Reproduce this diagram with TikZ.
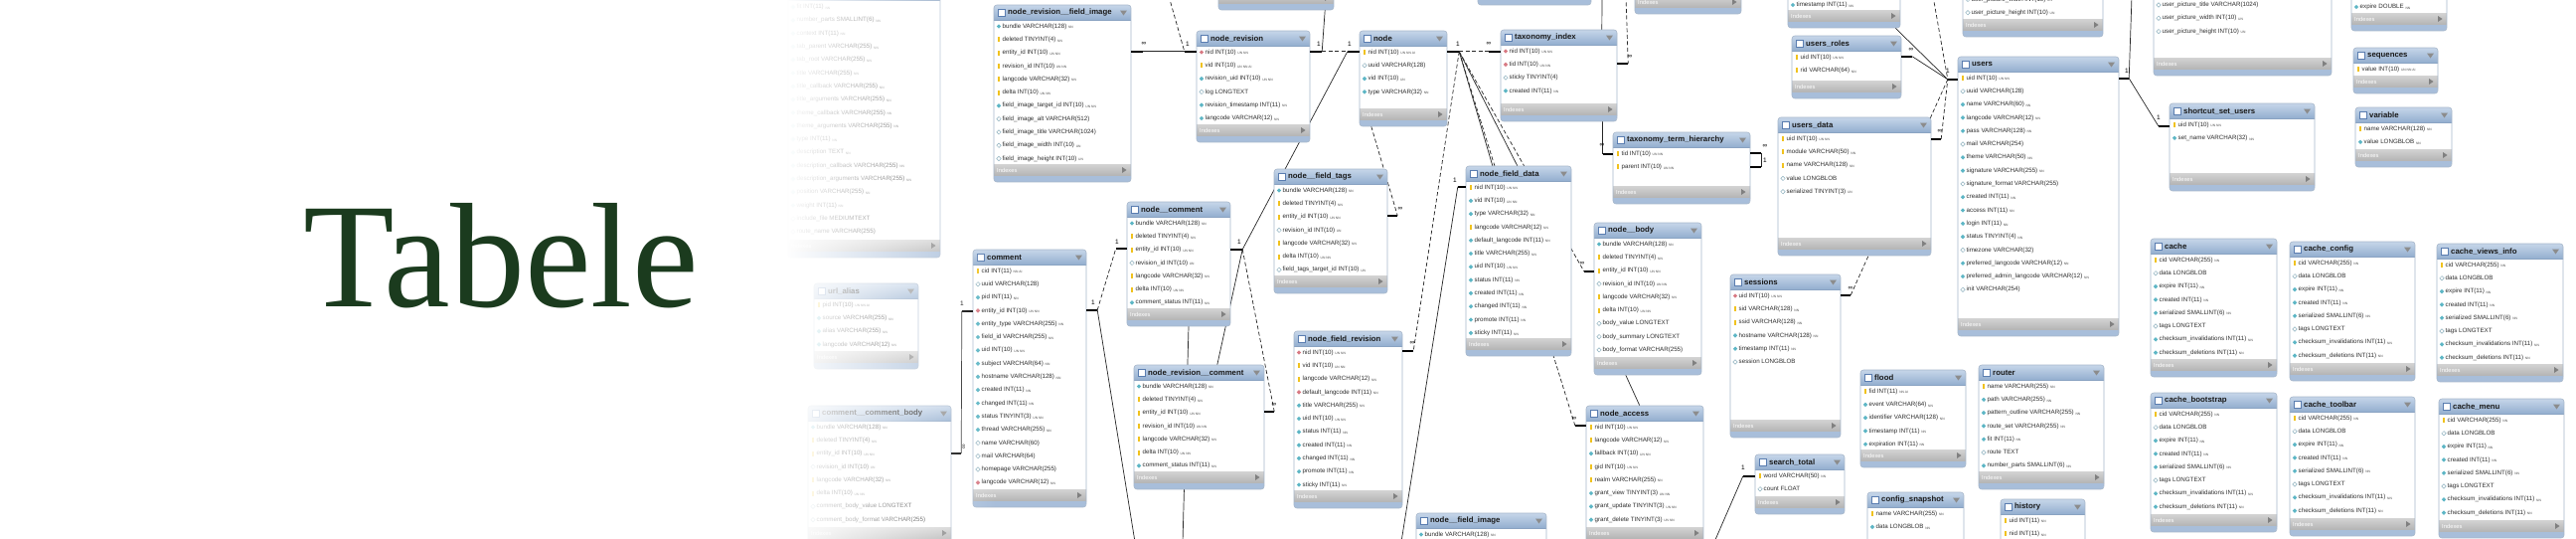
\documentclass[tikz,border=0pt]{standalone}
\usepackage{fontspec}
\setmainfont{Liberation Serif}
\newfontfamily\dbfont{Liberation Sans}
\usetikzlibrary{calc,fit,fadings,shapes.geometric}

\definecolor{hdtop}{HTML}{C6D6E9}
\definecolor{hdbot}{HTML}{93AECF}
\definecolor{hdedge}{HTML}{8AA3C2}
\definecolor{tabedge}{HTML}{A6B6CA}
\definecolor{tabfoot}{HTML}{A8BEDA}
\definecolor{ixtop}{HTML}{D3D3D3}
\definecolor{ixbot}{HTML}{B3B3B3}
\definecolor{iconblue}{HTML}{5A7DB0}
\definecolor{keycol}{HTML}{F0C21E}
\definecolor{fkcol}{HTML}{D87A84}
\definecolor{nncol}{HTML}{5DB6C5}
\definecolor{nulcol}{HTML}{8DB0BE}
\definecolor{rowcol}{HTML}{2E2E2E}
\definecolor{flagcol}{HTML}{4A4A4A}
\definecolor{titlegreen}{HTML}{1B3B1E}

\tikzfading[name=fadeout, left color=transparent!0, middle color=transparent!30, right color=transparent!100]

\pgfdeclarelayer{lines}
\pgfsetlayers{lines,main}

\tikzset{
  tabline/.style={draw=tabedge, line width=0.6pt},
  tabicon/.style={draw=iconblue, fill=white, line width=0.6pt},
  hdtext/.style={anchor=west, inner sep=0pt, text=black!90, font=\dbfont\bfseries\fontsize{7.8}{9}\selectfont},
  rowtext/.style={anchor=west, inner sep=0pt, text=rowcol, font=\dbfont\fontsize{6.2}{7}\selectfont},
  ixtext/.style={anchor=west, inner sep=0pt, text=white, font=\dbfont\fontsize{5.8}{7}\selectfont},
  hdtri/.style={fill=black!45},
  ixtri/.style={fill=black!50},
  ick/.style={rectangle, fill=keycol, minimum width=2pt, minimum height=5pt, inner sep=0pt},
  icf/.style={diamond, fill=fkcol, minimum size=4.6pt, inner sep=0pt},
  icn/.style={diamond, fill=nncol, minimum size=4.6pt, inner sep=0pt},
  ico/.style={diamond, draw=nulcol, fill=white, line width=0.5pt, minimum size=4.6pt, inner sep=0pt},
  relline/.style={draw=black!85, line width=0.7pt},
  reldash/.style={relline, dash pattern=on 4pt off 2.5pt},
  stub/.style={draw=black, line width=2pt},
  rellbl/.style={inner sep=0pt, font=\dbfont\fontsize{6.5}{7}\selectfont},
}

\newcommand{\flg}[1]{\raisebox{-0.6pt}{\fontsize{3.3}{4}\selectfont\color{flagcol}#1}}

% #1 name, #2 #3 top left, #4 #5 bottom right, #6 title, #7 rows
\newcommand{\dbtable}[7]{%
  \path (#2,#3) coordinate (#1-nw) (#4,#5) coordinate (#1-se);
  \node[fit=(#1-nw)(#1-se), inner sep=0pt] (#1) {};
  \begin{scope}
    \clip[rounded corners=3pt] (#2,#3) rectangle (#4,#5);
    \fill[white] (#2,#3) rectangle (#4,#5);
    \shade[top color=hdtop, bottom color=hdbot] (#2,#3) rectangle (#4,#3+15);
    \shade[top color=ixtop, bottom color=ixbot] (#2,#5-18) rectangle (#4,#5-6);
    \fill[tabfoot] (#2,#5-6) rectangle (#4,#5);
  \end{scope}
  \draw[hdedge, line width=0.5pt] (#2,#3+15) -- (#4,#3+15);
  \draw[tabline, rounded corners=3pt] (#2,#3) rectangle (#4,#5);
  \draw[tabicon] (#2+4,#3+4) rectangle (#2+11,#3+11.5);
  \node[hdtext] (#1-name) at (#2+14,#3+7.8) {#6};
  \fill[hdtri] (#4-11,#3+5.5) -- (#4-4,#3+5.5) -- (#4-7.5,#3+10.5) -- cycle;
  \node[ixtext] (#1-idx) at (#2+3,#5-12) {Indexes};
  \fill[ixtri] (#4-9,#5-15) -- (#4-9,#5-9) -- (#4-4.5,#5-12) -- cycle;
  \foreach \ic/\txt/\fl [count=\i] in {#7} {
    \pgfmathsetmacro\ry{#3+21.5+(\i-1)*13.3}
    \node[ic\ic] (#1-i\i) at (#2+5,\ry) {};
    \node[rowtext] (#1-r\i) at (#2+8.5,\ry) {\txt\ \flg{\fl}};
  }%
}

\begin{document}
\begin{tikzpicture}[x=1pt, y=-1pt]
    \useasboundingbox (0,0) rectangle (2592,541);
    \begin{pgfonlayer}{lines}
      \fill[white] (0,0) rectangle (2592,541);
    \end{pgfonlayer}

    %% Tables
    \dbtable{menurouter}{793}{-14.5}{946}{259}{menu\_router}{n/fit INT(11)/NN, n/number\_parts SMALLINT(6)/NN, n/context INT(11)/NN, n/tab\_parent VARCHAR(255)/NN, n/tab\_root VARCHAR(255)/NN, n/title VARCHAR(255)/NN, n/title\_callback VARCHAR(255)/NN, n/title\_arguments VARCHAR(255)/NN, n/theme\_callback VARCHAR(255)/NN, n/theme\_arguments VARCHAR(255)/NN, n/type INT(11)/NN, n/description TEXT/NN, n/description\_callback VARCHAR(255)/NN, n/description\_arguments VARCHAR(255)/NN, n/position VARCHAR(255)/NN, n/weight INT(11)/NN, o/include\_file MEDIUMTEXT/, o/route\_name VARCHAR(255)/}
    \dbtable{urlalias}{819}{285}{924}{371}{url\_alias}{k/pid INT(10)/UN NN AI, n/source VARCHAR(255)/NN, n/alias VARCHAR(255)/NN, n/langcode VARCHAR(12)/NN}
    \dbtable{ccbody}{813}{408}{957}{548}{comment\_\_comment\_body}{n/bundle VARCHAR(128)/NN, k/deleted TINYINT(4)/NN, k/entity\_id INT(10)/UN NN, o/revision\_id INT(10)/UN, k/langcode VARCHAR(32)/NN, k/delta INT(10)/UN NN, o/comment\_body\_value LONGTEXT/, o/comment\_body\_format VARCHAR(255)/}
    \dbtable{comment}{979}{251}{1093}{510}{comment}{k/cid INT(11)/NN AI, o/uuid VARCHAR(128)/, n/pid INT(11)/NN, f/entity\_id INT(10)/UN NN, n/entity\_type VARCHAR(255)/NN, n/field\_id VARCHAR(255)/NN, n/uid INT(10)/UN NN, n/subject VARCHAR(64)/NN, n/hostname VARCHAR(128)/NN, n/created INT(11)/NN, n/changed INT(11)/NN, n/status TINYINT(3)/UN NN, n/thread VARCHAR(255)/NN, o/name VARCHAR(60)/, o/mail VARCHAR(64)/, o/homepage VARCHAR(255)/, f/langcode VARCHAR(12)/NN}
    \dbtable{nrevfimg}{1000}{5}{1138}{183}{node\_revision\_\_field\_image}{n/bundle VARCHAR(128)/NN, k/deleted TINYINT(4)/NN, k/entity\_id INT(10)/UN NN, k/revision\_id INT(10)/UN NN, k/langcode VARCHAR(32)/NN, k/delta INT(10)/UN NN, n/field\_image\_target\_id INT(10)/UN NN, o/field\_image\_alt VARCHAR(512)/, o/field\_image\_title VARCHAR(1024)/, o/field\_image\_width INT(10)/UN, o/field\_image\_height INT(10)/UN}
    \dbtable{top1}{1226}{-80}{1342}{10}{node\_revision\_\_body}{n/bundle VARCHAR(128)/NN}
    \dbtable{nrev}{1204}{31}{1318}{143}{node\_revision}{f/nid INT(10)/UN NN, k/vid INT(10)/UN NN AI, n/revision\_uid INT(10)/UN NN, o/log LONGTEXT/, n/revision\_timestamp INT(11)/NN, n/langcode VARCHAR(12)/NN}
    \dbtable{node}{1368}{31}{1456}{127}{node}{k/nid INT(10)/UN NN AI, o/uuid VARCHAR(128)/, n/vid INT(10)/UN, n/type VARCHAR(32)/NN}
    \dbtable{top2}{1487}{-80}{1601}{5}{taxonomy\_term\_data}{k/tid INT(10)/UN NN}
    \dbtable{tidx}{1510}{30}{1627}{122}{taxonomy\_index}{f/nid INT(10)/UN NN, f/tid INT(10)/UN NN, o/sticky TINYINT(4)/, n/created INT(11)/NN}
    \dbtable{top3}{1645}{-80}{1752}{14}{taxonomy\_term\_field\_data}{k/tid INT(10)/UN NN}
    \dbtable{tthier}{1623}{133}{1761}{205}{taxonomy\_term\_hierarchy}{k/tid INT(10)/UN NN, k/parent INT(10)/UN NN}
    \dbtable{nftags}{1282}{170}{1396}{295}{node\_\_field\_tags}{n/bundle VARCHAR(128)/NN, k/deleted TINYINT(4)/NN, k/entity\_id INT(10)/UN NN, o/revision\_id INT(10)/UN, k/langcode VARCHAR(32)/NN, k/delta INT(10)/UN NN, o/field\_tags\_target\_id INT(10)/UN}
    \dbtable{nfdata}{1475}{167}{1581}{358}{node\_field\_data}{k/nid INT(10)/UN NN, n/vid INT(10)/UN NN, n/type VARCHAR(32)/NN, k/langcode VARCHAR(12)/NN, n/default\_langcode INT(11)/NN, n/title VARCHAR(255)/NN, n/uid INT(10)/UN NN, n/status INT(11)/NN, n/created INT(11)/NN, n/changed INT(11)/NN, n/promote INT(11)/NN, n/sticky INT(11)/NN}
    \dbtable{nbody}{1604}{224}{1712}{377}{node\_\_body}{n/bundle VARCHAR(128)/NN, k/deleted TINYINT(4)/NN, k/entity\_id INT(10)/UN NN, o/revision\_id INT(10)/UN NN, k/langcode VARCHAR(32)/NN, k/delta INT(10)/UN NN, o/body\_value LONGTEXT/, o/body\_summary LONGTEXT/, o/body\_format VARCHAR(255)/}
    \dbtable{ncomment}{1134}{203}{1238}{328}{node\_\_comment}{n/bundle VARCHAR(128)/NN, k/deleted TINYINT(4)/NN, k/entity\_id INT(10)/UN NN, o/revision\_id INT(10)/UN, k/langcode VARCHAR(32)/NN, k/delta INT(10)/UN NN, n/comment\_status INT(11)/NN}
    \dbtable{nrevcomm}{1141}{367}{1272}{492}{node\_revision\_\_comment}{n/bundle VARCHAR(128)/NN, k/deleted TINYINT(4)/NN, k/entity\_id INT(10)/UN NN, k/revision\_id INT(10)/UN NN, k/langcode VARCHAR(32)/NN, k/delta INT(10)/UN NN, n/comment\_status INT(11)/NN}
    \dbtable{nfrev}{1302}{333}{1411}{511}{node\_field\_revision}{f/nid INT(10)/UN NN, k/vid INT(10)/UN NN, k/langcode VARCHAR(12)/NN, f/default\_langcode INT(11)/NN, n/title VARCHAR(255)/NN, n/uid INT(10)/UN NN, n/status INT(11)/NN, n/created INT(11)/NN, n/changed INT(11)/NN, n/promote INT(11)/NN, n/sticky INT(11)/NN}
    \dbtable{nfimg}{1425}{516}{1556}{640}{node\_\_field\_image}{n/bundle VARCHAR(128)/NN, k/deleted TINYINT(4)/NN, k/entity\_id INT(10)/UN NN}
    \dbtable{naccess}{1596}{408}{1714}{548}{node\_access}{k/nid INT(10)/UN NN, k/langcode VARCHAR(12)/NN, n/fallback INT(10)/UN NN, k/gid INT(10)/UN NN, k/realm VARCHAR(255)/NN, n/grant\_view TINYINT(3)/UN NN, n/grant\_update TINYINT(3)/UN NN, n/grant\_delete TINYINT(3)/UN NN}
    \dbtable{watchdog}{1799}{-43.1}{1912}{28}{watchdog}{o/referer TEXT/, n/hostname VARCHAR(128)/NN, n/timestamp INT(11)/NN}
    \dbtable{usrroles}{1803}{36}{1913}{99}{users\_roles}{k/uid INT(10)/UN NN, k/rid VARCHAR(64)/NN}
    \dbtable{usrdata}{1789}{118}{1943}{257}{users\_data}{k/uid INT(10)/UN NN, k/module VARCHAR(50)/NN, k/name VARCHAR(128)/NN, o/value LONGBLOB/, o/serialized TINYINT(3)/UN}
    \dbtable{users}{1970}{57}{2132}{338}{users}{k/uid INT(10)/UN NN, o/uuid VARCHAR(128)/, n/name VARCHAR(60)/NN, n/langcode VARCHAR(12)/NN, n/pass VARCHAR(128)/NN, o/mail VARCHAR(254)/, n/theme VARCHAR(50)/NN, n/signature VARCHAR(255)/NN, o/signature\_format VARCHAR(255)/, n/created INT(11)/NN, n/access INT(11)/NN, n/login INT(11)/NN, n/status TINYINT(4)/NN, o/timezone VARCHAR(32)/, n/preferred\_langcode VARCHAR(12)/NN, n/preferred\_admin\_langcode VARCHAR(12)/NN, o/init VARCHAR(254)/}
    \dbtable{upic}{1975}{-35.4}{2116}{37}{users\_\_user\_picture}{o/user\_picture\_title VARCHAR(1024)/, o/user\_picture\_width INT(10)/UN, o/user\_picture\_height INT(10)/UN}
    \dbtable{urpic}{2167}{-16.5}{2346}{76}{user\_\_user\_picture}{o/user\_picture\_title VARCHAR(1024)/, o/user\_picture\_width INT(10)/UN, o/user\_picture\_height INT(10)/UN}
    \dbtable{semaphore}{2366}{-41.1}{2462}{31}{semaphore}{k/name VARCHAR(255)/NN, n/value VARCHAR(255)/NN, n/expire DOUBLE/NN}
    \dbtable{sequences}{2368}{48}{2453}{94}{sequences}{k/value INT(10)/UN NN AI}
    \dbtable{variable}{2370}{108}{2467}{168}{variable}{k/name VARCHAR(128)/NN, n/value LONGBLOB/NN}
    \dbtable{shortcut}{2183}{104}{2329}{192}{shortcut\_set\_users}{k/uid INT(10)/UN NN, n/set\_name VARCHAR(32)/NN}
    \dbtable{cache}{2164}{240}{2291}{379}{cache}{k/cid VARCHAR(255)/NN, o/data LONGBLOB/, n/expire INT(11)/NN, n/created INT(11)/NN, n/serialized SMALLINT(6)/NN, o/tags LONGTEXT/, n/checksum\_invalidations INT(11)/NN, n/checksum\_deletions INT(11)/NN}
    \dbtable{cacheconfig}{2304}{243}{2430}{383}{cache\_config}{k/cid VARCHAR(255)/NN, o/data LONGBLOB/, n/expire INT(11)/NN, n/created INT(11)/NN, n/serialized SMALLINT(6)/NN, o/tags LONGTEXT/, n/checksum\_invalidations INT(11)/NN, n/checksum\_deletions INT(11)/NN}
    \dbtable{cacheviews}{2452}{245}{2579}{384}{cache\_views\_info}{k/cid VARCHAR(255)/NN, o/data LONGBLOB/, n/expire INT(11)/NN, n/created INT(11)/NN, n/serialized SMALLINT(6)/NN, o/tags LONGTEXT/, n/checksum\_invalidations INT(11)/NN, n/checksum\_deletions INT(11)/NN}
    \dbtable{cacheboot}{2164}{395}{2291}{535}{cache\_bootstrap}{k/cid VARCHAR(255)/NN, o/data LONGBLOB/, n/expire INT(11)/NN, n/created INT(11)/NN, n/serialized SMALLINT(6)/NN, o/tags LONGTEXT/, n/checksum\_invalidations INT(11)/NN, n/checksum\_deletions INT(11)/NN}
    \dbtable{cachetool}{2304}{399}{2430}{539}{cache\_toolbar}{k/cid VARCHAR(255)/NN, o/data LONGBLOB/, n/expire INT(11)/NN, n/created INT(11)/NN, n/serialized SMALLINT(6)/NN, o/tags LONGTEXT/, n/checksum\_invalidations INT(11)/NN, n/checksum\_deletions INT(11)/NN}
    \dbtable{cachemenu}{2454}{401}{2580}{541}{cache\_menu}{k/cid VARCHAR(255)/NN, o/data LONGBLOB/, n/expire INT(11)/NN, n/created INT(11)/NN, n/serialized SMALLINT(6)/NN, o/tags LONGTEXT/, n/checksum\_invalidations INT(11)/NN, n/checksum\_deletions INT(11)/NN}
    \dbtable{sessions}{1741}{276}{1852}{440}{sessions}{f/uid INT(10)/UN NN, k/sid VARCHAR(128)/NN, k/ssid VARCHAR(128)/NN, n/hostname VARCHAR(128)/NN, n/timestamp INT(11)/NN, o/session LONGBLOB/}
    \dbtable{flood}{1872}{372}{1978}{470}{flood}{k/fid INT(11)/NN AI, n/event VARCHAR(64)/NN, n/identifier VARCHAR(128)/NN, n/timestamp INT(11)/NN, n/expiration INT(11)/NN}
    \dbtable{router}{1991}{367}{2117}{492}{router}{k/name VARCHAR(255)/NN, n/path VARCHAR(255)/NN, n/pattern\_outline VARCHAR(255)/NN, n/route\_set VARCHAR(255)/NN, n/fit INT(11)/NN, o/route TEXT/, n/number\_parts SMALLINT(6)/NN}
    \dbtable{searchtotal}{1766}{457}{1856}{517}{search\_total}{k/word VARCHAR(50)/NN, o/count FLOAT/}
    \dbtable{cfgsnap}{1879}{495}{1976}{580}{config\_snapshot}{k/name VARCHAR(255)/NN, n/data LONGBLOB/NN}
    \dbtable{history}{2013}{502}{2098}{590}{history}{k/uid INT(11)/NN, k/nid INT(11)/NN, n/timestamp INT(11)/NN}

    %% Stubs at the table sides
    \coordinate (fimg-e) at ($(nrevfimg.north east)+(0,47)$);
    \coordinate (nrev-w) at ($(nrev.north west)+(0,21)$);
    \coordinate (nrev-e) at ($(nrev.north east)+(0,21)$);
    \coordinate (node-w) at ($(node.north west)+(0,21)$);
    \coordinate (node-e) at ($(node.north east)+(0,21)$);
    \coordinate (tidx-w) at ($(tidx.north west)+(0,22)$);
    \coordinate (tidx-e) at ($(tidx.north east)+(0,34)$);
    \coordinate (th-w) at ($(tthier.north west)+(0,22)$);
    \coordinate (th-e1) at ($(tthier.north east)+(0,21)$);
    \coordinate (th-e2) at ($(tthier.north east)+(0,35)$);
    \coordinate (tags-e) at ($(nftags.north east)+(0,47)$);
    \coordinate (ncom-e) at ($(ncomment.north east)+(0,48)$);
    \coordinate (ncom-w) at ($(ncomment.north west)+(0,47)$);
    \coordinate (com-e) at ($(comment.north east)+(0,61)$);
    \coordinate (com-w) at ($(comment.north west)+(0,62)$);
    \coordinate (ccb-e) at ($(ccbody.north east)+(0,48)$);
    \coordinate (nrc-e) at ($(nrevcomm.north east)+(0,47)$);
    \coordinate (nfr-e) at ($(nfrev.north east)+(0,20)$);
    \coordinate (nfd-w) at ($(nfdata.north west)+(0,21)$);
    \coordinate (nbd-w) at ($(nbody.north west)+(0,49)$);
    \coordinate (nac-w) at ($(naccess.north west)+(0,20)$);
    \coordinate (ur-e) at ($(usrroles.north east)+(0,21)$);
    \coordinate (ud-e) at ($(usrdata.north east)+(0,22)$);
    \coordinate (us-w) at ($(users.north west)+(0,23)$);
    \coordinate (us-e) at ($(users.north east)+(0,22)$);
    \coordinate (ssu-w) at ($(shortcut.north west)+(0,23)$);
    \coordinate (ses-e) at ($(sessions.north east)+(0,21)$);
    \coordinate (st-w) at ($(searchtotal.north west)+(0,22)$);

    \draw[stub] (fimg-e) -- ++(12,0) coordinate (fimg-s);
    \draw[stub] (nrev-w) -- ++(-12,0) coordinate (nrevw-s);
    \draw[stub] (nrev-e) -- ++(12,0) coordinate (nreve-s);
    \draw[stub] (node-w) -- ++(-12,0) coordinate (nodew-s);
    \draw[stub] (node-e) -- ++(12,0) coordinate (nodee-s);
    \draw[stub] (tidx-w) -- ++(-12,0) coordinate (tidxw-s);
    \draw[stub] (tidx-e) -- ++(11,0) coordinate (tidxe-s);
    \draw[stub] (th-w) -- ++(-10,0) coordinate (thw-s);
    \draw[stub] (th-e1) -- ++(11,0) coordinate (the1-s);
    \draw[stub] (th-e2) -- ++(11,0) coordinate (the2-s);
    \draw[stub] (tags-e) -- ++(10,0) coordinate (tags-s);
    \draw[stub] (ncom-e) -- ++(12,0) coordinate (ncome-s);
    \draw[stub] (ncom-w) -- ++(-11,0) coordinate (ncomw-s);
    \draw[stub] (com-e) -- ++(11,0) coordinate (come-s);
    \draw[stub] (com-w) -- ++(-11,0) coordinate (comw-s);
    \draw[stub] (ccb-e) -- ++(10,0) coordinate (ccb-s);
    \draw[stub] (nrc-e) -- ++(10,0) coordinate (nrc-s);
    \draw[stub] (nfr-e) -- ++(11,0) coordinate (nfr-s);
    \draw[stub] (nfd-w) -- ++(-8,0) coordinate (nfd-s);
    \draw[stub] (nbd-w) -- ++(-10,0) coordinate (nbd-s);
    \draw[stub] (nac-w) -- ++(-11,0) coordinate (nac-s);
    \draw[stub] (ur-e) -- ++(11,0) coordinate (ur-s);
    \draw[stub] (ud-e) -- ++(10,0) coordinate (ud-s);
    \draw[stub] (us-w) -- ++(-10,0) coordinate (usw-s);
    \draw[stub] (us-e) -- ++(10,0) coordinate (use-s);
    \draw[stub] (ssu-w) -- ++(-11,0) coordinate (ssu-s);
    \draw[stub] (ses-e) -- ++(10,0) coordinate (ses-s);
    \draw[stub] (st-w) -- ++(-12,0) coordinate (st-s);

    \coordinate (offA) at (1176,-4);
    \coordinate (offB) at (1612,-4);
    \coordinate (offC) at (1636,-4);
    \coordinate (offD) at (1945,-4);
    \coordinate (offE) at (2145,-4);
    \coordinate (offF) at (1142,545);
    \coordinate (offG) at (1190,545);
    \coordinate (offH) at (1410,545);
    \coordinate (offI) at (1725,545);

    %% Relations
    \begin{pgfonlayer}{lines}
      \draw[relline] (fimg-s) -- (nrevw-s);
      \draw[reldash] (offA) -- (nrevw-s);
      \draw[relline] ($(top1.south east)+(-9,0)$) -- (nreve-s);
      \draw[reldash] (nreve-s) -- (nodew-s);
      \draw[reldash] (nodee-s) -- (tidxw-s);
      \draw[relline] (nodew-s) -- (ncome-s);
      \draw[reldash] ($(node.south west)+(12,0)$) -- (tags-s);
      \draw[relline] (nodee-s) -- ($(nfdata.north west)+(27,0)$);
      \draw[relline] (nodee-s) -- ($(nfdata.north west)+(52,0)$);
      \draw[reldash] (nodee-s) -- (nbd-s);
      \draw[reldash] (nodee-s) -- (nac-s);
      \draw[reldash] (nodee-s) -- (nfr-s);
      \draw[relline] (nfd-s) -- (offH);
      \draw[relline] (offB) -- ($(tidx.north west)+(102,0)$);
      \draw[relline] ($(tidx.south west)+(103,0)$) -- (thw-s);
      \draw[reldash] (offC) -- (tidxe-s);
      \draw[relline] (the1-s) -- (the2-s);
      \draw[relline] (ur-s) -- (usw-s);
      \draw[reldash] (ud-s) -- (usw-s);
      \draw[relline] ($(watchdog.south east)+(-5,0)$) -- (usw-s);
      \draw[reldash] (offD) -- (usw-s);
      \draw[reldash] (usw-s) -- (ses-s);
      \draw[relline] (offE) -- (use-s);
      \draw[relline] (use-s) -- (ssu-s);
      \draw[relline] (st-s) -- (offI);
      \draw[reldash] (come-s) -- (ncomw-s);
      \draw[relline] (come-s) -- (offF);
      \draw[relline] (comw-s) -- (ccb-s);
      \draw[relline] (ncome-s) -- ($(nrevcomm.north west)+(84,0)$);
      \draw[reldash] (ncome-s) -- (nrc-s);
      \draw[relline] ($(ncomment.south)+(10,0)$) -- (offG);
      \draw[relline] ($(nbody.south west)+(32,0)$) -- ($(naccess.north west)+(54,0)$);
    \end{pgfonlayer}

    %% Cardinalities
    \node[rellbl] (lb-fimg) at (1151,44) {∞};
    \node[rellbl] (lb-nrevw) at (1195,44) {1};
    \node[rellbl] (lb-nreve) at (1327,44) {1};
    \node[rellbl] (lb-nodew) at (1358,44) {1};
    \node[rellbl] (lb-nodee) at (1467,44) {1};
    \node[rellbl] (lb-tidxw) at (1498,44) {∞};
    \node[rellbl] (lb-tidxe) at (1640,57) {∞};
    \node[rellbl] (lb-thw) at (1612,146) {∞};
    \node[rellbl] (lb-the1) at (1776,147) {∞};
    \node[rellbl] (lb-the2) at (1776,161) {1};
    \node[rellbl] (lb-tags) at (1409,210) {∞};
    \node[rellbl] (lb-ncome) at (1247,243) {1};
    \node[rellbl] (lb-ncomw) at (1124,243) {1};
    \node[rellbl] (lb-come) at (1100,304) {1};
    \node[rellbl] (lb-comw) at (968,305) {1};
    \node[rellbl, rotate=90] (lb-ccb) at (970,449) {∞};
    \node[rellbl] (lb-nrc) at (1282,407) {∞};
    \node[rellbl] (lb-nfr) at (1421,345) {∞};
    \node[rellbl] (lb-nfd) at (1464,181) {1};
    \node[rellbl] (lb-nbd) at (1592,265) {∞};
    \node[rellbl] (lb-nac) at (1584,421) {∞};
    \node[rellbl] (lb-ur) at (1923,50) {∞};
    \node[rellbl] (lb-ud) at (1952,132) {∞};
    \node[rellbl] (lb-usw) at (1960,71) {1};
    \node[rellbl] (lb-use) at (2140,71) {1};
    \node[rellbl] (lb-ssu) at (2172,118) {1};
    \node[rellbl] (lb-ses) at (1862,290) {∞};
    \node[rellbl] (lb-st) at (1754,470) {1};

    %% Fade to white and title
    \fill[white] (0,-2) rectangle (792,543);
    \fill[white, path fading=fadeout] (790,-2) rectangle (1002,543);
    \node[anchor=base west, inner sep=0pt, text=titlegreen, font=\fontsize{150}{154}\selectfont] (title) at (305,308) {Tabele};
\end{tikzpicture}
\end{document}
